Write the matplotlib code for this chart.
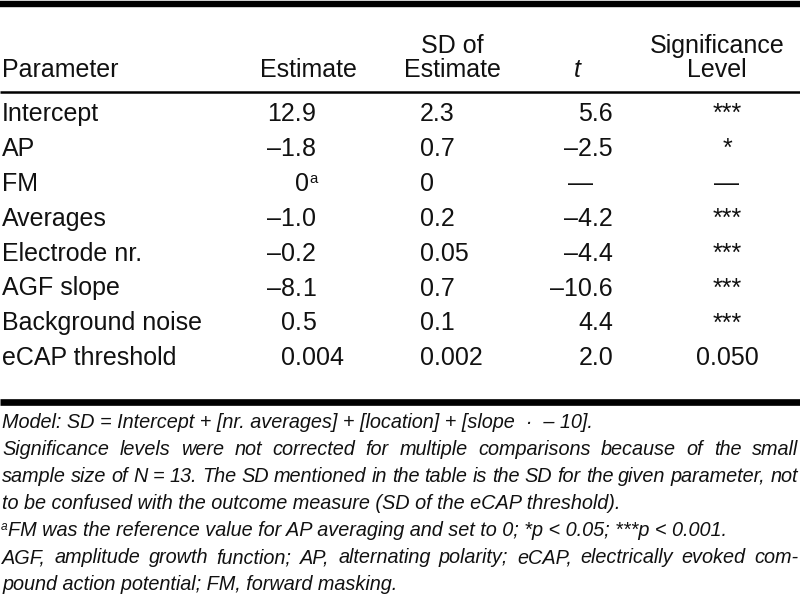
import matplotlib
matplotlib.use("Agg")
import matplotlib.pyplot as plt

# ---------------- data ----------------
header_top = ["", "", "SD of", "", "Significance"]
header_bottom = ["Parameter", "Estimate", "Estimate", "t", "Level"]
parameters = ["Intercept", "AP", "FM", "Averages", "Electrode nr.", "AGF slope",
              "Background noise", "eCAP threshold"]
estimates = ["12.9", "\u20131.8", "0", "\u20131.0", "\u20130.2", "\u20138.1", "0.5", "0.004"]
estimate_marks = ["", "", "a", "", "", "", "", ""]
sd_estimates = ["2.3", "0.7", "0", "0.2", "0.05", "0.7", "0.1", "0.002"]
t_values = ["5.6", "\u20132.5", "\u2014", "\u20134.2", "\u20134.4", "\u201310.6", "4.4", "2.0"]
significance = ["***", "*", "\u2014", "***", "***", "***", "***", "0.050"]

note_model = "Model: SD = Intercept + [nr. averages] + [location] + [slope  \u00b7  \u2013 10]."
note_sig_lines = [
    "Significance levels were not corrected for multiple comparisons because of the small",
    "sample size of N = 13. The SD mentioned in the table is the SD for the given parameter, not",
    "to be confused with the outcome measure (SD of the eCAP threshold).",
]
note_ref_mark = "a"
note_ref = "FM was the reference value for AP averaging and set to 0; *p < 0.05; ***p < 0.001."
note_abbr_lines = [
    "AGF, amplitude growth function; AP, alternating polarity; eCAP, electrically evoked com-",
    "pound action potential; FM, forward masking.",
]

# ---------------- figure ----------------
FONT = "Liberation Sans"
TABLE_FS = 18
NOTE_FS = 14.3
W, H = 800, 595

fig = plt.figure(figsize=(W / 100, H / 100), dpi=100)
ax = fig.add_axes([0, 0, 1, 1])
ax.set_xlim(0, W)
ax.set_ylim(H, 0)
ax.axis("off")
renderer = fig.canvas.get_renderer()


def put(x, y, s, ha="left", size=TABLE_FS, style="normal"):
    return ax.text(x, y, s, ha=ha, va="baseline", fontsize=size, fontstyle=style,
                   family=FONT, color="#111111")


def width(t):
    return t.get_window_extent(renderer=renderer).width


def put_decimal(x_dec, y, s):
    i = s.index(".")
    put(x_dec, y, s[:i + 1], ha="right")
    put(x_dec, y, s[i + 1:], ha="left")


def put_justified(x0, x1, y, line, size, style):
    words = line.split(" ")
    texts = [put(0, y, w, size=size, style=style) for w in words]
    widths = [width(t) for t in texts]
    gap = (x1 - x0 - sum(widths)) / (len(words) - 1)
    x = x0
    for t, w in zip(texts, widths):
        t.set_x(x)
        x += w + gap


# rules
ax.hlines(4, 0, W, color="black", lw=4.6)
ax.hlines(92, 0, W, color="black", lw=1.8)
ax.hlines(401.5, 0, W, color="black", lw=4.8)

# header
col_header_x = [2, 308, 452, 577, 717]
col_header_ha = ["left", "center", "center", "center", "center"]
for x, ha, top, bot in zip(col_header_x, col_header_ha, header_top, header_bottom):
    if top:
        put(x, 53, top, ha=ha)
    put(x, 77, bot, ha=ha, style="italic" if bot == "t" else "normal")

# body rows
row0, row_step = 121, 34.9
est_dec, est_right = 302, 318
sd_left = 420
t_right, t_dash = 613, 580
sig_center = 727

for i, name in enumerate(parameters):
    y = row0 + i * row_step
    put(2, y, name)
    # estimate
    e = estimates[i]
    if estimate_marks[i]:
        sup = put(0, y - 8, estimate_marks[i], size=TABLE_FS * 0.6)
        sw = width(sup)
        sup.set_x(est_right - sw)
        put(est_right - sw - 1, y, e, ha="right")
    elif "." in e:
        put_decimal(est_dec, y, e)
    else:
        put(est_right, y, e, ha="right")
    # SD of estimate
    put(sd_left, y, sd_estimates[i])
    # t
    tv = t_values[i]
    if tv == "\u2014":
        put(t_dash, y, tv, ha="center")
    else:
        put(t_right, y, tv, ha="right")
    # significance
    put(sig_center, y, significance[i], ha="center")

# footnotes
note0, note_step = 428, 27
ny = note0
put(2, ny, note_model, size=NOTE_FS, style="italic")
ny += note_step
put_justified(2, 798, ny, note_sig_lines[0], NOTE_FS, "italic")
ny += note_step
put_justified(2, 798, ny, note_sig_lines[1], NOTE_FS, "italic")
ny += note_step
put(2, ny, note_sig_lines[2], size=NOTE_FS, style="italic")
ny += note_step
m = put(1, ny - 6, note_ref_mark, size=NOTE_FS * 0.6, style="italic")
put(1 + width(m), ny, note_ref, size=NOTE_FS, style="italic")
ny += note_step
put_justified(2, 798, ny, note_abbr_lines[0], NOTE_FS, "italic")
ny += note_step
put(2, ny, note_abbr_lines[1], size=NOTE_FS, style="italic")

fig.savefig("out.png", dpi=100, facecolor="white")
